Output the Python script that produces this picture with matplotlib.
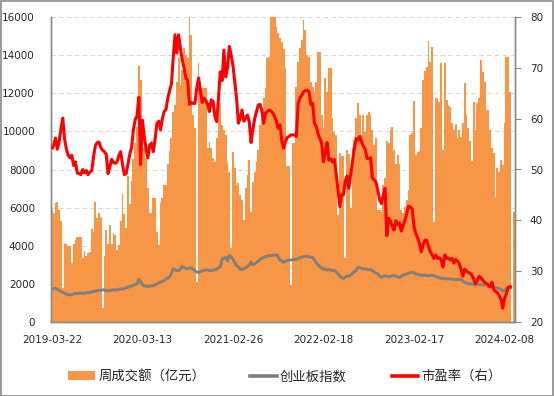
import numpy as np
import matplotlib.pyplot as plt
from matplotlib.patches import Patch, Rectangle
from matplotlib.lines import Line2D

# weekly turnover (100 million yuan), one value per trading week
turnover = [
    5900, 5700, 6250, 6300, 5900, 5300, 1800, 4130, 4080, 4000,
    4000, 3100, 4100, 4300, 4480, 4480, 4480, 3380, 3730, 3480,
    3600, 3650, 4880, 4740, 6280, 5440, 5700, 5530, 750, 3480,
    4830, 4080, 5090, 4080, 4650, 4570, 3760, 4040, 5300, 6700,
    5650, 4910, 7660, 6170, 7400, 8550, 9400, 10230, 13450, 12700,
    10340, 9110, 8590, 7010, 5700, 5700, 6520, 6520, 4740, 4040,
    6230, 6520, 7190, 7190, 8270, 8970, 9640, 11040, 11390, 12610,
    13830, 12420, 13220, 14360, 14010, 13830, 16500, 15060, 10860, 10160,
    2120, 13570, 12610, 12300, 12300, 12300, 9110, 9460, 9110, 8590,
    8410, 9640, 11470, 11470, 10340, 10070, 9810, 8410, 7890, 3870,
    8940, 8060, 7190, 7280, 6670, 6400, 5350, 7010, 7710, 8500,
    5790, 7360, 7890, 8410, 9020, 10340, 11040, 11740, 12260, 13830,
    13920, 16500, 16800, 16200, 15500, 15140, 14900, 14700, 14300, 13300,
    8190, 8190, 1940, 9370, 9370, 12350, 13660, 14360, 14800, 15850,
    15320, 14010, 13920, 12610, 12350, 12090, 12610, 14180, 14180, 10860,
    10200, 12790, 12090, 13310, 13310, 10690, 9990, 9810, 5610, 8890,
    8710, 8710, 3340, 9000, 8800, 5960, 9110, 9550, 10690, 11470,
    10860, 9810, 10860, 9990, 10860, 11040, 10860, 10070, 9290, 9640,
    5880, 5880, 5790, 7190, 7540, 9500, 9370, 10070, 10250, 9020,
    8300, 8760, 8300, 5880, 5700, 6050, 6400, 6900, 9810, 9900,
    11600, 8760, 8940, 8970, 10160, 12700, 13170, 13400, 14740, 13620,
    14450, 5260, 11770, 11680, 11560, 13570, 9020, 13570, 11650, 11400,
    11300, 10420, 10070, 10370, 9670, 10070, 9720, 10420, 12530, 10860,
    10160, 9500, 8450, 11560, 10070, 11470, 11730, 13740, 13130, 12610,
    11120, 11120, 10070, 9110, 8850, 6570, 8060, 7890, 8500, 8230,
    10440, 13920, 13920, 12080, 0, 5790,
]

# ChiNext index (left axis)
chinext = [
    1700, 1740, 1770, 1720, 1660, 1600, 1560, 1510, 1460, 1440,
    1420, 1440, 1470, 1500, 1490, 1510, 1520, 1500, 1510, 1540,
    1530, 1550, 1580, 1600, 1620, 1640, 1660, 1650, 1690, 1680,
    1650, 1640, 1660, 1670, 1690, 1680, 1690, 1720, 1740, 1730,
    1760, 1800, 1830, 1850, 1880, 1930, 1970, 2000, 2250, 2120,
    1960, 1900, 1880, 1870, 1880, 1900, 1900, 1950, 2000, 2050,
    2100, 2130, 2180, 2250, 2300, 2380, 2550, 2790, 2740, 2700,
    2700, 2780, 2920, 2860, 2800, 2800, 2820, 2850, 2760, 2700,
    2620, 2600, 2650, 2680, 2700, 2740, 2720, 2700, 2700, 2720,
    2740, 2780, 2850, 2890, 3280, 3350, 3400, 3200, 3500, 3420,
    3300, 3100, 2950, 2900, 2780, 2750, 2800, 2850, 2900, 3000,
    3150, 3000, 3050, 3120, 3200, 3280, 3350, 3380, 3420, 3450,
    3480, 3490, 3500, 3520, 3530, 3400, 3250, 3200, 3130, 3180,
    3220, 3250, 3250, 3270, 3280, 3290, 3320, 3380, 3400, 3430,
    3440, 3450, 3420, 3400, 3380, 3250, 3110, 3000, 2900, 2820,
    2780, 2760, 2730, 2750, 2720, 2700, 2700, 2640, 2520, 2400,
    2330, 2290, 2350, 2420, 2400, 2450, 2550, 2650, 2690, 2870,
    2850, 2820, 2780, 2790, 2760, 2750, 2750, 2700, 2620, 2560,
    2520, 2400, 2340, 2380, 2430, 2400, 2360, 2380, 2420, 2430,
    2400, 2370, 2340, 2400, 2470, 2500, 2520, 2560, 2590, 2610,
    2580, 2520, 2520, 2480, 2460, 2450, 2460, 2440, 2420, 2440,
    2450, 2430, 2400, 2350, 2320, 2290, 2300, 2280, 2260, 2270,
    2260, 2250, 2240, 2230, 2220, 2250, 2230, 2160, 2080, 2040,
    2020, 1990, 2000, 1980, 1990, 2000, 1970, 1950, 1940, 1960,
    1990, 1960, 1920, 1880, 1850, 1800, 1780, 1740, 1710, 1620,
    1660, 1760, 1780, 1790, 1800,
]

# P/E ratio (right axis)
pe = [
    54.0, 54.8, 56.2, 54.0, 55.5, 58.0, 60.1, 56.0, 54.0, 52.8,
    52.3, 52.8, 50.8, 51.5, 49.3, 49.2, 49.0, 50.0, 49.3, 49.8,
    49.0, 49.5, 49.8, 52.5, 54.7, 55.3, 55.4, 54.3, 53.8, 53.5,
    53.0, 49.2, 50.5, 52.0, 51.4, 51.2, 51.5, 52.8, 53.5, 51.0,
    49.0, 49.2, 51.0, 53.0, 54.3, 57.8, 59.8, 60.5, 64.2, 51.0,
    59.7, 56.5, 54.0, 52.3, 54.8, 55.2, 53.5, 56.0, 59.0, 59.5,
    57.8, 60.0, 61.4, 61.8, 64.0, 65.5, 66.8, 71.9, 76.5, 72.9,
    76.5, 73.8, 71.5, 69.9, 68.0, 67.5, 62.8, 63.2, 63.0, 63.0,
    66.0, 68.0, 65.5, 63.2, 64.0, 63.6, 62.8, 61.4, 63.7, 63.4,
    60.5, 59.4, 64.0, 69.2, 67.5, 73.5, 68.2, 70.0, 74.2, 72.5,
    70.5, 67.3, 64.0, 59.1, 60.0, 61.7, 59.5, 60.2, 60.7, 59.4,
    55.3, 57.8, 60.0, 61.4, 62.7, 62.8, 61.5, 59.1, 61.1, 61.4,
    61.7, 61.5, 61.1, 60.4, 59.5, 58.1, 58.8, 55.5, 54.2, 55.5,
    56.3, 56.5, 56.8, 56.8, 56.8, 56.5, 63.0, 64.1, 64.6, 65.3,
    65.5, 65.6, 65.3, 62.8, 63.0, 59.1, 58.5, 57.0, 56.1, 55.1,
    51.5, 53.5, 55.3, 51.8, 52.1, 51.5, 52.0, 49.2, 46.0, 42.7,
    45.0, 45.0, 47.7, 48.7, 46.3, 48.9, 51.5, 54.1, 56.1, 55.8,
    56.5, 55.5, 54.6, 54.0, 52.2, 52.1, 52.3, 48.3, 48.0, 47.5,
    46.0, 44.0, 43.3, 45.0, 46.3, 37.0, 40.4, 39.8, 38.8, 38.1,
    39.9, 39.2, 39.5, 37.9, 39.0, 40.0, 41.4, 42.8, 42.6, 42.3,
    38.7, 37.4, 36.5, 35.5, 33.8, 35.1, 36.1, 36.1, 34.8, 33.8,
    33.2, 32.5, 33.2, 32.5, 32.6, 32.3, 30.8, 33.2, 32.5, 32.6,
    32.2, 32.5, 31.6, 32.3, 32.0, 31.4, 30.3, 29.0, 30.4, 30.0,
    29.7, 29.6, 29.2, 28.4, 27.5, 28.3, 29.0, 28.7, 28.2, 27.8,
    27.6, 27.2, 26.9, 27.8, 26.4, 26.0, 25.8, 25.2, 24.5, 22.7,
    24.7, 25.5, 26.8, 27.0, 26.8,
]

tick_labels = ["2019-03-22", "2020-03-13", "2021-02-26",
               "2022-02-18", "2023-02-17", "2024-02-08"]
tick_step = 50

ORANGE = "#F79646"
GRAY = "#7F7F7F"
RED = "#FF0000"
AXIS = "#898989"
TXT = "#262626"

plt.rcParams["font.family"] = ["DejaVu Sans", "Noto Sans CJK SC"]

fig = plt.figure(figsize=(5.54, 3.96), dpi=100)
ax = fig.add_axes([51 / 554, 1 - 322 / 396, (514.5 - 51) / 554, (322 - 17) / 396])
ax2 = ax.twinx()

x_bar = np.arange(len(turnover))
x_line = np.arange(len(chinext))

ax.bar(x_bar, turnover, width=1.0, color=ORANGE, linewidth=0, zorder=2)
ax.plot(x_line, chinext, color=GRAY, lw=2.1, zorder=3, solid_capstyle="butt")
ax2.plot(x_line, pe, color=RED, lw=2.2, zorder=3, solid_capstyle="butt")

ax.set_xlim(-0.5, len(turnover) - 0.5)
ax.set_ylim(0, 16000)
ax.set_yticks(np.arange(0, 16001, 2000))
ax2.set_ylim(20, 80)
ax2.set_yticks(np.arange(20, 81, 10))

ax.set_xticks(np.arange(len(tick_labels)) * tick_step)
ax.set_xticklabels(tick_labels)

ax.set_axisbelow(True)
ax.yaxis.grid(True, color="#D9D9D9", lw=0.8, ls=(0, (4, 3)))
ax.xaxis.grid(False)

for a in (ax, ax2):
    a.spines["top"].set_visible(False)
    for s in ("left", "right", "bottom"):
        a.spines[s].set_color(AXIS)
        a.spines[s].set_linewidth(1.0)

ax.tick_params(axis="y", length=0, pad=11.5, labelsize=7.5, labelcolor=TXT)
ax.tick_params(axis="x", direction="in", length=4, color=AXIS, pad=9.5,
               labelsize=7.5, labelcolor=TXT)
ax2.tick_params(axis="y", direction="out", length=4, color=AXIS, pad=7,
                labelsize=7.5, labelcolor=TXT)

handles = [
    Patch(facecolor=ORANGE, edgecolor="none"),
    Line2D([], [], color=GRAY, lw=2.6),
    Line2D([], [], color=RED, lw=2.6),
]
labels = ["周成交额（亿元）", "创业板指数", "市盈率（右）"]
fig.legend(handles, labels, loc="center", bbox_to_anchor=(0.5145, 0.05), ncol=3,
           frameon=False, prop={"family": ["Noto Sans CJK SC"], "size": 9.6},
           handlelength=2.0, handleheight=0.65, handletextpad=0.25,
           columnspacing=3.35, labelcolor=TXT)

fig.patches.append(Rectangle((0.001, 0.001), 0.997, 0.997, transform=fig.transFigure,
                             fill=False, edgecolor=AXIS, lw=1.2))

fig.savefig("out.png", dpi=100)
